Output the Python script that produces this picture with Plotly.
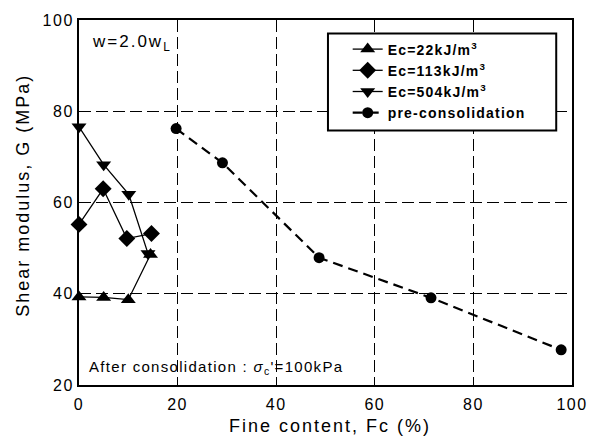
import plotly.graph_objects as go

fc_22 = [0, 5, 10, 14.5]
g_22 = [39.3, 39.2, 38.7, 48.6]
fc_113 = [0, 4.9, 9.7, 14.7]
g_113 = [55.2, 63.0, 52.1, 53.2]
fc_504 = [0, 5, 10.1, 14]
g_504 = [76.6, 68.3, 61.8, 48.8]
fc_pre = [19.7, 29.1, 48.7, 71.4, 97.8]
g_pre = [76.2, 68.7, 47.9, 39.1, 27.7]

names = ["Ec=22kJ/m<sup>3</sup>", "Ec=113kJ/m<sup>3</sup>", "Ec=504kJ/m<sup>3</sup>", "pre-consolidation"]
x_ticks = [0, 20, 40, 60, 80, 100]
y_ticks = [20, 40, 60, 80, 100]

FONT = "Liberation Sans, Arial"

fig = go.Figure()
fig.add_trace(go.Scatter(x=fc_22, y=g_22, mode="lines+markers", name=names[0], cliponaxis=False,
                         line=dict(color="black", width=1.3),
                         marker=dict(symbol="triangle-up", size=13, color="black")))
fig.add_trace(go.Scatter(x=fc_113, y=g_113, mode="lines+markers", name=names[1], cliponaxis=False,
                         line=dict(color="black", width=1.3),
                         marker=dict(symbol="diamond", size=13, color="black")))
fig.add_trace(go.Scatter(x=fc_504, y=g_504, mode="lines+markers", name=names[2], cliponaxis=False,
                         line=dict(color="black", width=1.3),
                         marker=dict(symbol="triangle-down", size=13, color="black")))
fig.add_trace(go.Scatter(x=fc_pre, y=g_pre, mode="lines+markers", name=names[3], cliponaxis=False,
                         line=dict(color="black", width=2.2, dash="10px,6px"),
                         marker=dict(symbol="circle", size=11, color="black")))

axis_common = dict(showline=True, linecolor="black", linewidth=2, mirror=True,
                   showgrid=True, gridcolor="black", gridwidth=1, griddash="12px,5px",
                   zeroline=False, ticks="", tickfont=dict(family=FONT, size=16, color="black"))

fig.update_xaxes(range=[0, 100], tickvals=x_ticks, ticklabelstandoff=4, **axis_common)
fig.update_yaxes(range=[20, 100], tickvals=y_ticks, **axis_common)

# axis titles (as annotations for exact placement)
fig.add_annotation(x=0.509, y=-0.111, xref="paper", yref="paper", xanchor="center", yanchor="middle",
                   text="Fine content, Fc (%)", showarrow=False,
                   font=dict(family=FONT, size=18, color="black"))
fig.add_annotation(x=-0.115, y=0.519, xref="paper", yref="paper", xanchor="center", yanchor="middle",
                   text="Shear modulus, G (MPa)", showarrow=False, textangle=-90,
                   font=dict(family=FONT, size=18, color="black"))
fig.add_annotation(x=0.022, y=0.938, xref="paper", yref="paper", xanchor="left", yanchor="middle", align="left",
                   text="w=2.0w<sub>L</sub>", showarrow=False,
                   font=dict(family=FONT, size=17, color="black"))
fig.add_annotation(x=0.016, y=0.049, xref="paper", yref="paper", xanchor="left", yanchor="middle", align="left",
                   text="After consolidation : <i>σ</i><sub>c</sub>'=100kPa", showarrow=False,
                   font=dict(family=FONT, size=15, color="black"))

# legend frame
fig.add_shape(type="rect", xref="paper", yref="paper", x0=0.505, x1=0.968, y0=0.697, y1=0.963,
              line=dict(color="black", width=2), fillcolor="white", layer="above")

fig.update_layout(
    width=597, height=439,
    margin=dict(l=79, r=23, t=15, b=54),
    plot_bgcolor="white", paper_bgcolor="white",
    font=dict(family=FONT, color="black"),
    legend=dict(x=0.545, y=0.963, xanchor="left", yanchor="top",
                bgcolor="rgba(0,0,0,0)", borderwidth=0,
                font=dict(family=FONT, size=14, color="black", weight="bold"),
                itemwidth=30, tracegroupgap=0),
)

post = """
var gd = document.getElementById('{plot_id}');
function sp(sel, v){ gd.querySelectorAll(sel).forEach(function(e){ e.style.letterSpacing = v; }); }
sp('.xtick text, .ytick text', '1.5px');
sp('.legendtext', '1.2px');
gd.querySelectorAll('.legend [clip-path], .legend').forEach(function(e){ e.removeAttribute('clip-path'); });
var ann = gd.querySelectorAll('.annotation-text');
var spc = ['2px', '2px', '2px', '1.3px'];
ann.forEach(function(e, i){ e.style.letterSpacing = spc[i] || '1.3px'; });
"""

fig.write_html("out.html", post_script=post)
